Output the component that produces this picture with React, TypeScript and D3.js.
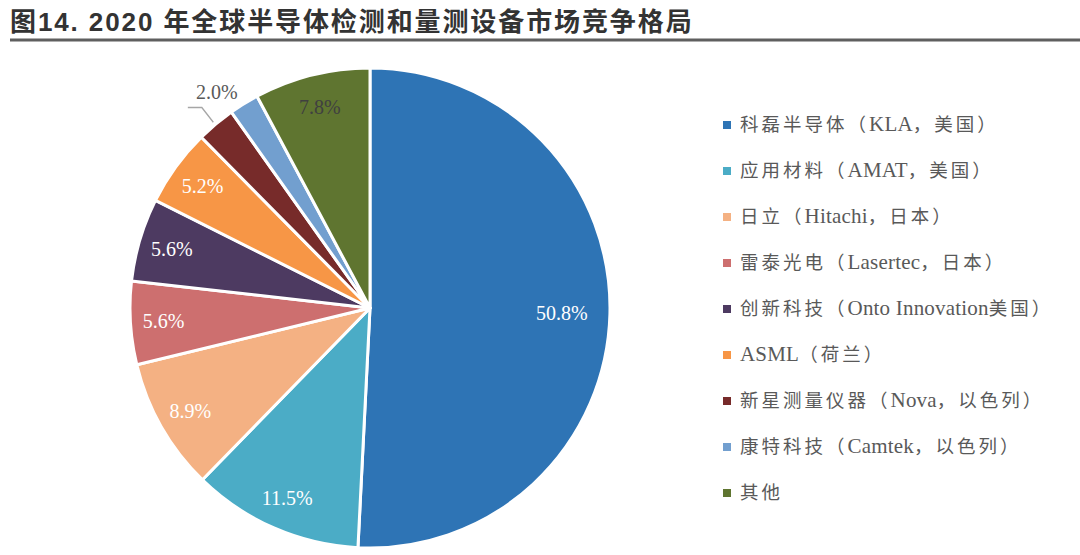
import React from "react";
import * as d3 from "d3";

// 2020 global semiconductor inspection & metrology equipment market share
const categories = [
  "科磊半导体（KLA，美国）",
  "应用材料（AMAT，美国）",
  "日立（Hitachi，日本）",
  "雷泰光电（Lasertec，日本）",
  "创新科技（Onto Innovation美国）",
  "ASML（荷兰）",
  "新星测量仪器（Nova，以色列）",
  "康特科技（Camtek，以色列）",
  "其他",
];
const shares = [50.8, 11.5, 8.9, 5.6, 5.6, 5.2, 2.6, 2.0, 7.8];
// which slices carry a label, and where (inside / outside)
const labelMode = ["in", "in", "in", "in", "in", "in", "none", "out", "in"];
const colors = [
  "#2E74B5",
  "#4BACC6",
  "#F4B183",
  "#CD6F6F",
  "#4D3A61",
  "#F79646",
  "#772B2A",
  "#729FCF",
  "#5F7530",
];
const labelColors = ["#fff", "#fff", "#fff", "#fff", "#fff", "#fff", "#fff", "#595959", "#404040"];

const title = "图14. 2020 年全球半导体检测和量测设备市场竞争格局";

const W = 1080;
const H = 555;
const cx = 370;
const cy = 308;
const R = 240;

const serif = "Liberation Serif, Times New Roman, DejaVu Serif, Noto Sans CJK SC, serif";

// split legend text into latin / CJK runs so each gets its own size & spacing
function runs(s: string) {
  return s.match(/[\x20-\x7e]+|[^\x20-\x7e]+/g) || [];
}

export default function App() {
  const pie = d3.pie<number>().sort(null).value((d) => d);
  const arcs = pie(shares);
  const arc = d3.arc<d3.PieArcDatum<number>>().innerRadius(0).outerRadius(R);

  const polar = (r: number, a: number): [number, number] => [r * Math.sin(a), -r * Math.cos(a)];

  const legendY = d3.scalePoint<number>().domain(d3.range(categories.length)).range([125, 493]);

  return (
    <svg
      width={W}
      height={H}
      style={{ position: "absolute", left: 0, top: 0, background: "#fff" }}
    >
      {/* title */}
      <text
        x={10}
        y={31}
        fontFamily="Liberation Sans, Arial, Noto Sans CJK SC, sans-serif"
        fontWeight="bold"
        fontSize={26}
        letterSpacing={1.9}
        fill="#333"
      >
        {title}
      </text>
      <line x1={10} x2={W} y1={40} y2={40} stroke="#5f5f5f" strokeWidth={3} />

      {/* pie */}
      <g transform={`translate(${cx},${cy})`}>
        {arcs.map((a, i) => (
          <path key={i} d={arc(a) || ""} fill={colors[i]} stroke="#fff" strokeWidth={3} strokeLinejoin="round" />
        ))}
        {arcs.map((a, i) => {
          if (labelMode[i] === "none") return null;
          const mid = (a.startAngle + a.endAngle) / 2;
          if (labelMode[i] === "in") {
            const [x, y] = polar(i === 0 ? R * 0.8 : R * 0.862, mid);
            return (
              <text
                key={`l${i}`}
                x={x}
                y={y}
                textAnchor="middle"
                dominantBaseline="central"
                style={{ fontFamily: serif }}
                fontSize={20}
                fill={labelColors[i]}
              >
                {shares[i].toFixed(1)}%
              </text>
            );
          }
          // outside label with leader line
          const [lx, ly] = polar(R * 1.105, a.startAngle);
          const [ex, ey] = polar(R + 3, a.startAngle - 0.085);
          const pts: [number, number][] = [
            [lx - 29, ly + 16],
            [lx - 15, ly + 16],
            [ex, ey],
          ];
          return (
            <g key={`l${i}`}>
              <path d={d3.line()(pts) || ""} fill="none" stroke="#a6a6a6" strokeWidth={1.3} />
              <text
                x={lx}
                y={ly}
                textAnchor="middle"
                dominantBaseline="central"
                style={{ fontFamily: serif }}
                fontSize={20}
                fill={labelColors[i]}
              >
                {shares[i].toFixed(1)}%
              </text>
            </g>
          );
        })}
      </g>

      {/* legend */}
      {categories.map((c, i) => {
        const y = legendY(i) as number;
        return (
          <g key={`lg${i}`} transform={`translate(723,${y})`}>
            <rect x={0} y={-4} width={8} height={8} fill={colors[i]} />
            <text x={17} y={6} style={{ fontFamily: serif }} fill="#595959">
              {runs(c).map((r, k) => {
                const latin = /^[\x20-\x7e]+$/.test(r);
                return (
                  <tspan
                    key={k}
                    fontSize={latin ? 21 : 18.5}
                    letterSpacing={latin ? 0.2 : 3}
                  >
                    {r}
                  </tspan>
                );
              })}
            </text>
          </g>
        );
      })}
    </svg>
  );
}
